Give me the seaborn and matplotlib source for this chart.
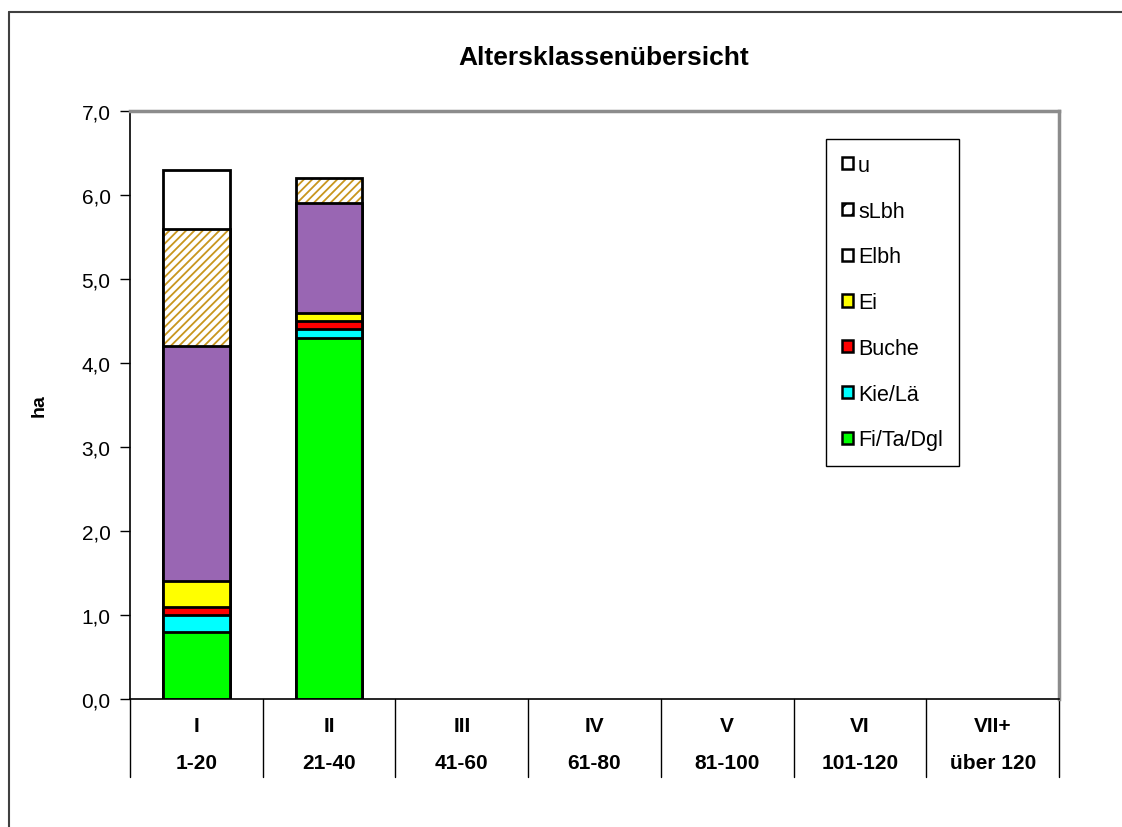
import pandas as pd
import seaborn as sns
import matplotlib.pyplot as plt
from matplotlib.lines import Line2D
from matplotlib.ticker import FuncFormatter

# Altersklassen (two-row category labels)
klassen = ["I", "II", "III", "IV", "V", "VI", "VII+"]
alter = ["1-20", "21-40", "41-60", "61-80", "81-100", "101-120", "über 120"]

# area per species group in ha, stacked bottom to top
fi_ta_dgl = [0.8, 4.3, 0, 0, 0, 0, 0]
kie_lae = [0.2, 0.1, 0, 0, 0, 0, 0]
buche = [0.1, 0.1, 0, 0, 0, 0, 0]
ei = [0.3, 0.1, 0, 0, 0, 0, 0]
elbh = [2.8, 1.3, 0, 0, 0, 0, 0]
slbh = [1.4, 0.3, 0, 0, 0, 0, 0]
u = [0.7, 0.0, 0, 0, 0, 0, 0]

series = [
    ("Fi/Ta/Dgl", fi_ta_dgl, "#00ff00"),
    ("Kie/Lä", kie_lae, "#00ffff"),
    ("Buche", buche, "#ff0000"),
    ("Ei", ei, "#ffff00"),
    ("Elbh", elbh, "#9966b3"),
    ("sLbh", slbh, "white"),
    ("u", u, "white"),
]

sns.set_style("white")
plt.rcParams["font.family"] = ["Liberation Sans", "DejaVu Sans"]
plt.rcParams["hatch.linewidth"] = 1.3
for key in ["text.color", "axes.labelcolor", "xtick.color", "ytick.color"]:
    plt.rcParams[key] = "black"

fig = plt.figure(figsize=(11.22, 8.28), dpi=100)
ax = fig.add_axes([130 / 1122, 1 - 700 / 828, 929 / 1122, 588 / 828])

# cumulative tops; draw top layer first so lower layers overdraw it
tops = []
run = [0.0] * len(klassen)
for name, vals, col in series:
    run = [r + v for r, v in zip(run, vals)]
    tops.append((name, vals, run, col))

for name, vals, top, col in tops[::-1]:
    df = pd.DataFrame({"klasse": klassen, "ha": top, "val": vals})
    df = df[df["val"] > 0]
    if name == "sLbh":
        sns.barplot(data=df, x="klasse", y="ha", order=klassen, color="white",
                    edgecolor="#c8961e", hatch="////", linewidth=0, width=0.5,
                    saturation=1, ax=ax)
        sns.barplot(data=df, x="klasse", y="ha", order=klassen, fill=False,
                    edgecolor="black", linewidth=2, width=0.5, saturation=1,
                    ax=ax, label=name)
    else:
        sns.barplot(data=df, x="klasse", y="ha", order=klassen, color=col,
                    edgecolor="black", linewidth=2, width=0.5, saturation=1,
                    ax=ax, label=name)

ax.set_xlim(-0.5, len(klassen) - 0.5)
ax.set_ylim(0, 7)
ax.set_yticks([i for i in range(8)])
ax.yaxis.set_major_formatter(FuncFormatter(lambda v, p: f"{v:.1f}".replace(".", ",")))
ax.tick_params(axis="y", direction="out", length=7, width=1, colors="black",
               labelsize=15, left=True, pad=7)
ax.set_xticks([])
ax.set_xlabel("")
ax.set_ylabel("ha", fontsize=14, fontweight="bold")
ax.yaxis.set_label_coords(-0.089, 0.5)
ax.text(0.51, (700 - 58) / 588, "Altersklassenübersicht", transform=ax.transAxes,
        ha="center", va="center", fontsize=19, fontweight="bold")

for side in ["top", "right"]:
    ax.spines[side].set_color("#8c8c8c")
    ax.spines[side].set_linewidth(2.5)
for side in ["left", "bottom"]:
    ax.spines[side].set_color("black")
    ax.spines[side].set_linewidth(1.2)

# category table below the axis
trans = ax.get_xaxis_transform()
for i in range(len(klassen) + 1):
    ax.add_line(Line2D([i - 0.5, i - 0.5], [0, -0.132], transform=trans,
                       color="black", lw=1, clip_on=False))
for i, (k, a) in enumerate(zip(klassen, alter)):
    ax.text(i, -0.045, k, transform=trans, ha="center", va="center",
            fontsize=15, fontweight="bold")
    ax.text(i, -0.108, a, transform=trans, ha="center", va="center",
            fontsize=15, fontweight="bold")

handles, labels = ax.get_legend_handles_labels()
leg = ax.legend(handles, labels, loc="upper left",
                bbox_to_anchor=(0.749, 0.953), fontsize=15.5, frameon=True,
                fancybox=False, edgecolor="black", framealpha=1,
                handlelength=0.5, handleheight=0.5, handletextpad=0.25,
                labelspacing=1.15, borderpad=0.75, borderaxespad=0)
leg.get_frame().set_linewidth(1)
for h, lab in zip(leg.legend_handles, labels):
    h.set_linewidth(1.8)
    if lab == "Elbh":
        h.set_facecolor("white")
    if lab == "sLbh":
        h.set_facecolor("white")
        h.set_hatch("//")

# outer chart frame
fig.add_artist(Line2D([9 / 1122, 1], [1 - 13 / 828] * 2, color="#404040", lw=1.5))
fig.add_artist(Line2D([9 / 1122] * 2, [0, 1 - 13 / 828], color="#404040", lw=1.5))

fig.savefig("out.png", dpi=100)
